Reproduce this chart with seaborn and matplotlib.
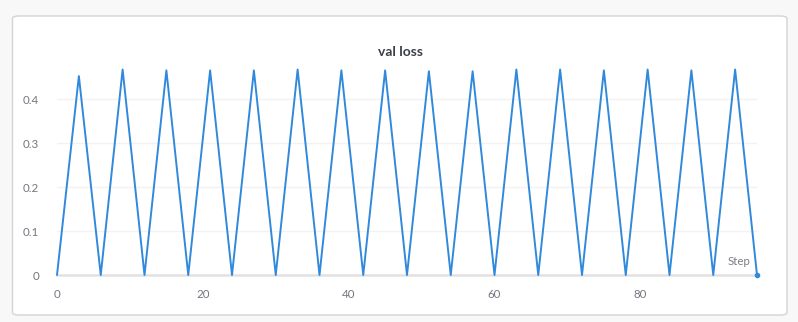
import matplotlib
matplotlib.use("Agg")
import matplotlib.pyplot as plt
import seaborn as sns
import pandas as pd
from matplotlib.patches import FancyBboxPatch

# ---- data ----
steps = [0, 3, 6, 9, 12, 15, 18, 21, 24, 27, 30, 33, 36, 39, 42, 45, 48,
         51, 54, 57, 60, 63, 66, 69, 72, 75, 78, 81, 84, 87, 90, 93, 96]
val_loss = [0, 0.452, 0, 0.467, 0, 0.465, 0, 0.465, 0, 0.465, 0, 0.467, 0,
            0.465, 0, 0.465, 0, 0.463, 0, 0.463, 0, 0.467, 0, 0.467, 0,
            0.465, 0, 0.467, 0, 0.465, 0, 0.467, 0]
x_ticks = [0, 20, 40, 60, 80]
y_ticks = [0, 0.1, 0.2, 0.3, 0.4]
y_tick_labels = ["0", "0.1", "0.2", "0.3", "0.4"]
title = "val loss"
x_label = "Step"

df = pd.DataFrame({"Step": steps, "val loss": val_loss})

sns.set_theme(style="white")
plt.rcParams["font.family"] = ["Lato", "DejaVu Sans"]

W, H = 798, 322
fig = plt.figure(figsize=(W / 100, H / 100), dpi=100, facecolor="#f8f8f8")

# card panel
card = FancyBboxPatch((12.5 / W, 1 - 315 / H), (787 - 12.5) / W, (315 - 16) / H,
                      boxstyle="round,pad=0,rounding_size=0.008",
                      transform=fig.transFigure, facecolor="white",
                      edgecolor="#d4d4d4", linewidth=1.0, zorder=-5)
fig.patches.append(card)

ax_left, ax_right = 57, 757
ax_bottom, ax_top = 275, 66
ax = fig.add_axes([ax_left / W, 1 - ax_bottom / H,
                   (ax_right - ax_left) / W, (ax_bottom - ax_top) / H])
ax.set_zorder(2)
ax.set_facecolor("none")

sns.lineplot(data=df, x="Step", y="val loss", ax=ax, color="#3189dc",
             linewidth=1.4, clip_on=False, zorder=3)
ax.plot(steps[-1:], val_loss[-1:], "o", color="#3189dc", markersize=3,
        clip_on=False, zorder=4)

ax.set_xlim(0, 96)
ax.set_ylim(0, 0.475)
ax.set_xticks(x_ticks)
ax.set_yticks(y_ticks)
ax.set_yticklabels(y_tick_labels)

for s in ["top", "right", "left"]:
    ax.spines[s].set_visible(False)
ax.spines["bottom"].set_color("#e2e2e4")
ax.spines["bottom"].set_linewidth(1.8)

ax.grid(axis="y", color="#f2f2f3", linewidth=1.0)
ax.grid(axis="x", visible=False)
ax.set_axisbelow(True)

ax.tick_params(axis="x", direction="inout", length=8, width=1.0,
               color="#e2e2e4", pad=6, labelsize=8.3, labelcolor="#72767f")
ax.tick_params(axis="y", length=0, pad=13, labelsize=8.3,
               labelcolor="#72767f")

ax.set_xlabel("")
ax.set_ylabel("")
ax.text(0.991, 0.04, x_label, transform=ax.transAxes, ha="right", va="bottom",
        fontsize=8.3, color="#7a7d88")

fig.text(400 / W, 1 - 52 / H, title, ha="center", va="center",
         fontsize=10, fontweight="bold", color="#3b3f4a")

fig.savefig("out.png", dpi=100, facecolor=fig.get_facecolor())
